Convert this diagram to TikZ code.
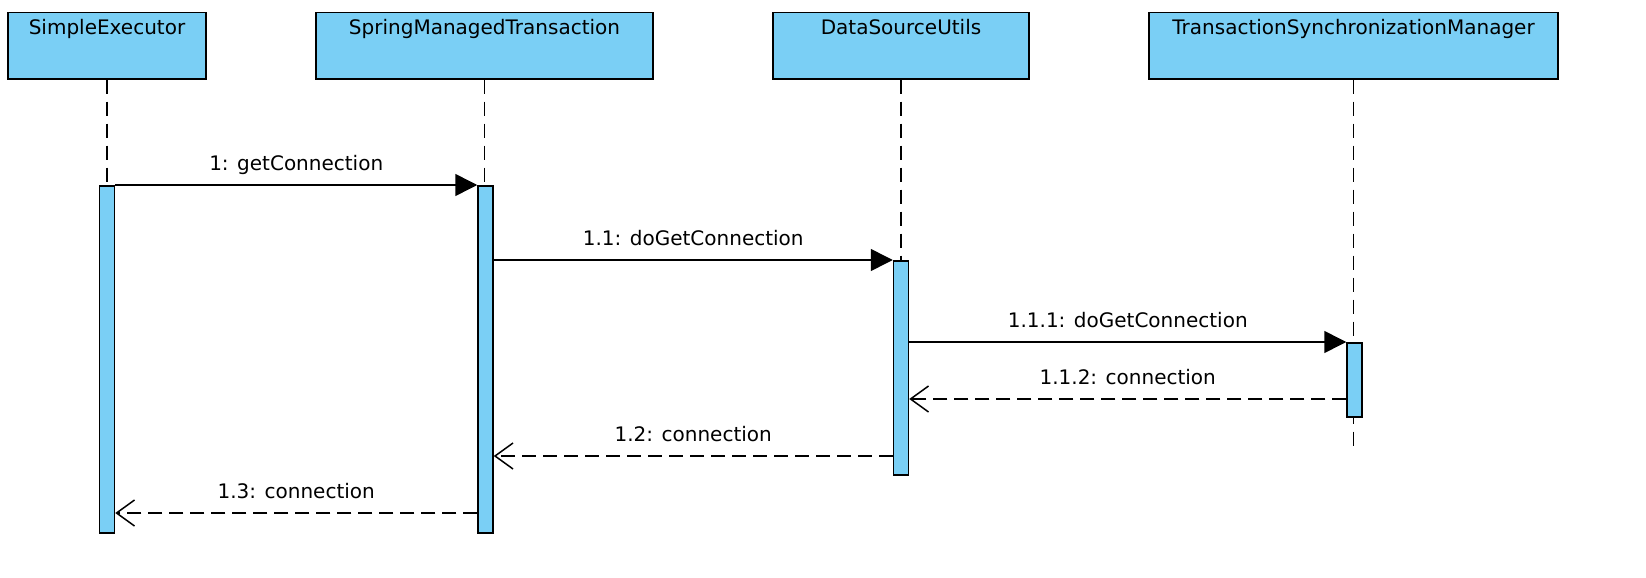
\documentclass[tikz,border=0pt]{standalone}
\usepackage{fontspec}
\setmainfont{DejaVu Sans}
\usetikzlibrary{arrows.meta}
\definecolor{lblue}{HTML}{7ACFF5}
\begin{document}
\begin{tikzpicture}[x=1pt,y=-1pt,line width=1.5pt,
  objbox/.style={draw=black,fill=lblue,minimum height=66pt,inner sep=0pt,anchor=north},
  boxtxt/.style={anchor=base,inner sep=0pt,font=\fontsize{20}{24}\selectfont},
  actbar/.style={draw=black,fill=lblue,minimum width=15pt,inner sep=0pt,anchor=north},
  life/.style={dash pattern=on 14pt off 8pt},
  call/.style={-{Triangle[length=22pt,width=22pt]}},
  ret/.style={dash pattern=on 14pt off 7pt,-{Straight Barb[length=18pt,width=26pt,line width=1.5pt]}},
  msglbl/.style={anchor=base,inner sep=0pt,yshift=15pt,font=\fontsize{20}{24}\selectfont}]
\useasboundingbox (0,0) rectangle (1646,578);
% lifeline heads
\node[objbox,minimum width=198pt] (se) at (107,12) {};
\node[objbox,minimum width=337pt] (smt) at (484.5,12) {};
\node[objbox,minimum width=256pt] (dsu) at (901,12) {};
\node[objbox,minimum width=409pt] (tsm) at (1353.5,12) {};
\node[boxtxt] (seT) at ([yshift=-22.5pt]se.north) {SimpleExecutor};
\node[boxtxt] (smtT) at ([yshift=-22.5pt]smt.north) {SpringManagedTransaction};
\node[boxtxt] (dsuT) at ([yshift=-22.5pt]dsu.north) {DataSourceUtils};
\node[boxtxt] (tsmT) at ([yshift=-22.5pt]tsm.north) {TransactionSynchronizationManager};
% lifeline ends
\coordinate (e1) at (107,185);
\coordinate (e2) at (484.5,185);
\coordinate (e3) at (901,260);
\coordinate (e4) at (1353.5,450);
\draw[life] (se.south) -- (e1);
\draw[life] (smt.south) -- (e2);
\draw[life] (dsu.south) -- (e3);
\draw[life] (tsm.south) -- (e4);
% activation bars
\node[actbar,minimum height=347pt] (b1) at (107,185) {};
\node[actbar,minimum height=347pt] (b2) at (485.5,185) {};
\node[actbar,minimum height=214pt] (b3) at (901,260) {};
\node[actbar,minimum height=74pt] (b4) at (1354.5,342) {};
% return levels
\coordinate (r1) at (0,399);
\coordinate (r2) at (0,456);
\coordinate (r3) at (0,513);
% messages
\draw[call] (b1.north east) -- node[msglbl] (m1) {1: getConnection} (b2.north west);
\draw[call] (b2.east |- b3.north) -- node[msglbl] (m2) {1.1: doGetConnection} (b3.north west);
\draw[call] (b3.east |- b4.north) -- node[msglbl] (m3) {1.1.1: doGetConnection} (b4.north west);
\draw[ret] (b4.west |- r1) -- node[msglbl] (m4) {1.1.2: connection} (b3.east |- r1);
\draw[ret] (b3.west |- r2) -- node[msglbl] (m5) {1.2: connection} (b2.east |- r2);
\draw[ret] (b2.west |- r3) -- node[msglbl] (m6) {1.3: connection} (b1.east |- r3);
\end{tikzpicture}
\end{document}
